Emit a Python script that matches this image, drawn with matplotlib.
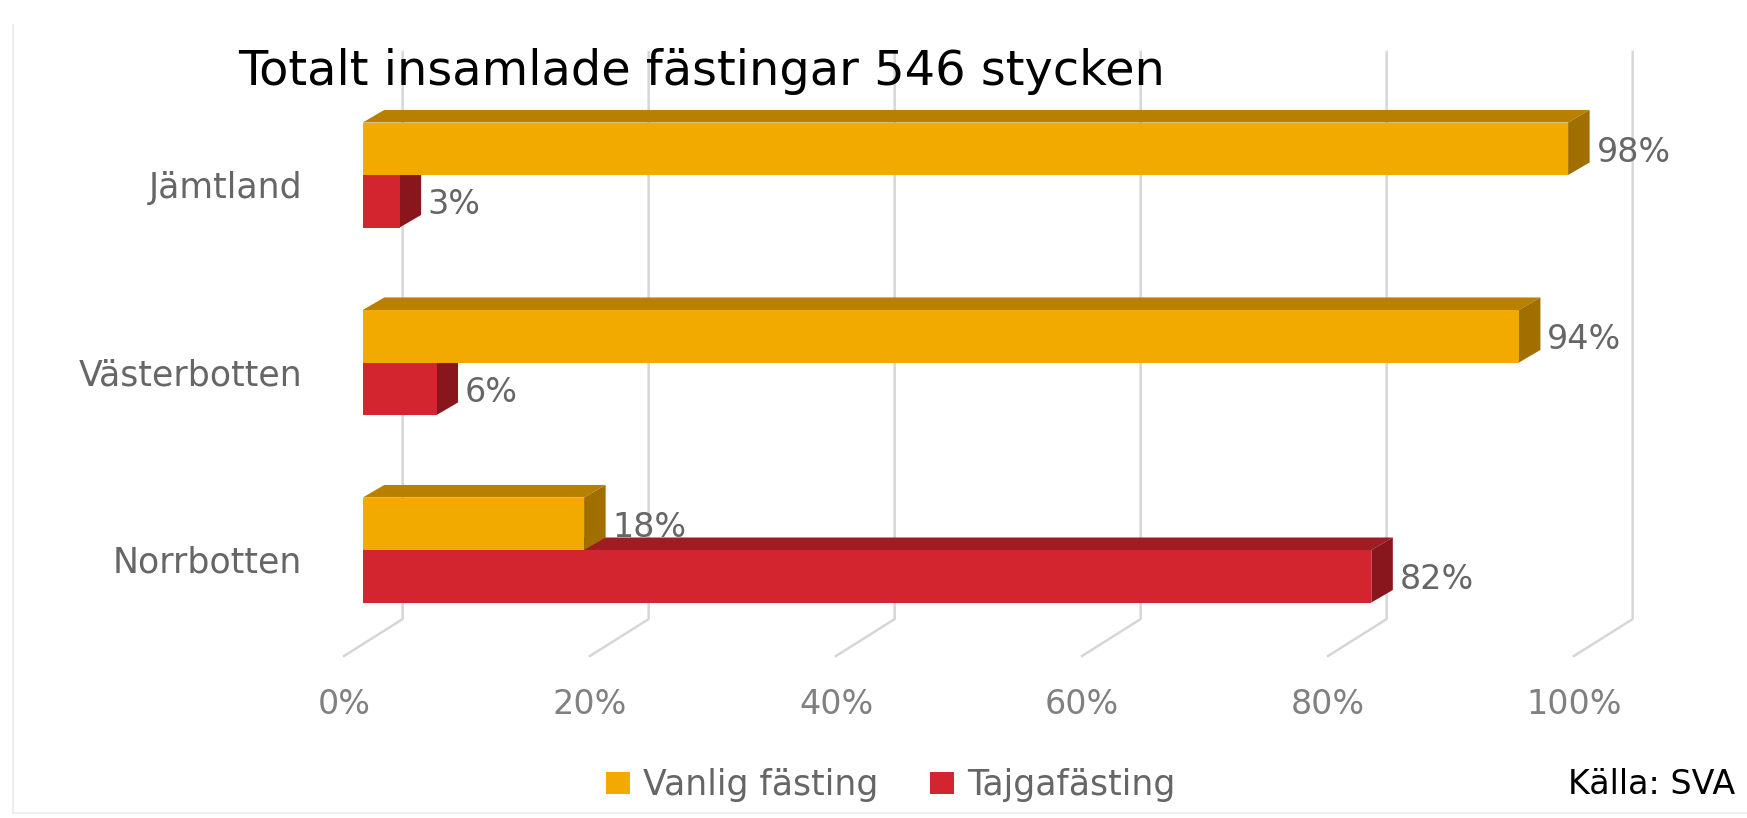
import matplotlib
matplotlib.use("Agg")
import matplotlib.pyplot as plt
from matplotlib.patches import Polygon, Patch, Rectangle
from matplotlib.lines import Line2D

# ────────────────────────────────────────────────
# Data
# ────────────────────────────────────────────────
regions = ["Jämtland", "Västerbotten", "Norrbotten"]
vanlig = [98, 94, 18]      # Vanlig fästing, %
tajga = [3, 6, 82]         # Tajgafästing, %
ticks = [0, 20, 40, 60, 80, 100]
series_names = ["Vanlig fästing", "Tajgafästing"]
title = "Totalt insamlade fästingar 546 stycken"
source = "Källa: SVA"

# face colours: front, top, side
YELLOW = ("#f2a900", "#b98000", "#a06f00")
RED = ("#d3252f", "#a01c24", "#8a161d")
GRID = "#d6d6d6"
LABEL = "#666666"
TICK = "#808080"
FONT = "DejaVu Sans"

W, H = 1747, 818
fig = plt.figure(figsize=(W / 100, H / 100), dpi=100)

# plot area: front 0..100 % spans px 362.7..1592.7, y from 52 to 656 px
ax = fig.add_axes([362.7 / W, 1 - 656 / H, 1230 / W, (656 - 52) / H])
ax.set_xlim(0, 100)
ax.set_ylim(2.565, -0.656)
ax.axis("off")

bar_h = 0.28           # height of one bar (category units)
dx, dy = 1.75, -0.067  # 3D depth of a bar
wall_dx = 3.25         # back wall offset
floor_dx = -1.52       # front edge of the floor
wall_bottom = 2.368
floor_front = 2.565
top_y = -0.656


def draw_bar(y0, val, cols, z):
    front, top, side = cols
    ax.add_patch(Polygon([(0, y0), (val, y0), (val + dx, y0 + dy), (dx, y0 + dy)],
                         closed=True, fc=top, ec="none", zorder=z))
    ax.add_patch(Polygon([(val, y0), (val + dx, y0 + dy), (val + dx, y0 + bar_h + dy),
                          (val, y0 + bar_h)], closed=True, fc=side, ec="none", zorder=z))
    ax.add_patch(Rectangle((0, y0), val, bar_h, fc=front, ec="none", zorder=z))


# gridlines on back wall + floor diagonals
for t in ticks:
    ax.add_line(Line2D([t + wall_dx, t + wall_dx, t + floor_dx],
                       [top_y, wall_bottom, floor_front],
                       color=GRID, lw=1.8, zorder=1, clip_on=False))
    ax.text(t + floor_dx, 2.875, f"{t}%", ha="center", va="baseline",
            fontsize=24, color=TICK, family=FONT)

lbl_font = dict(fontsize=24, color=LABEL, family=FONT)
for i, (reg, v, tj) in enumerate(zip(regions, vanlig, tajga)):
    # red (lower) bar first, yellow covers its top face
    draw_bar(i, tj, RED, 2 + i * 2)
    draw_bar(i - bar_h, v, YELLOW, 3 + i * 2)
    ax.text(v + dx + 0.55, i - bar_h / 2 + 0.07, f"{v}%", ha="left", va="baseline",
            zorder=10, **lbl_font)
    ax.text(tj + dx + 0.55, i + bar_h / 2 + 0.07, f"{tj}%", ha="left", va="baseline",
            zorder=10, **lbl_font)
    ax.text(-4.93, i + 0.12, reg, ha="right", va="baseline",
            fontsize=25, color=LABEL, family=FONT)

# legend
handles = [Patch(facecolor=YELLOW[0]), Patch(facecolor=RED[0])]
leg = fig.legend(handles, series_names, loc="center left",
                 bbox_to_anchor=(606 / W, 1 - 785 / H), ncol=2, frameon=False,
                 handlelength=0.69, handleheight=0.58, handletextpad=0.37,
                 columnspacing=1.5, borderpad=0, borderaxespad=0,
                 prop={"family": FONT, "size": 25})
for txt in leg.get_texts():
    txt.set_color(LABEL)

fig.text(238 / W, 1 - 85 / H, title, fontsize=34.5, family=FONT,
         color="black", va="baseline")
fig.text(1568 / W, 1 - 794 / H, source, fontsize=24, family=FONT,
         color="black", va="baseline")

# faint frame of the original screenshot
fig.add_artist(Line2D([13 / W, 13 / W], [1 - 25 / H, 1 - 813 / H], color="#ececec", lw=1.2))
fig.add_artist(Line2D([13 / W, 1], [1 - 813 / H, 1 - 813 / H], color="#ececec", lw=1.2))

fig.savefig("out.png", dpi=100)
